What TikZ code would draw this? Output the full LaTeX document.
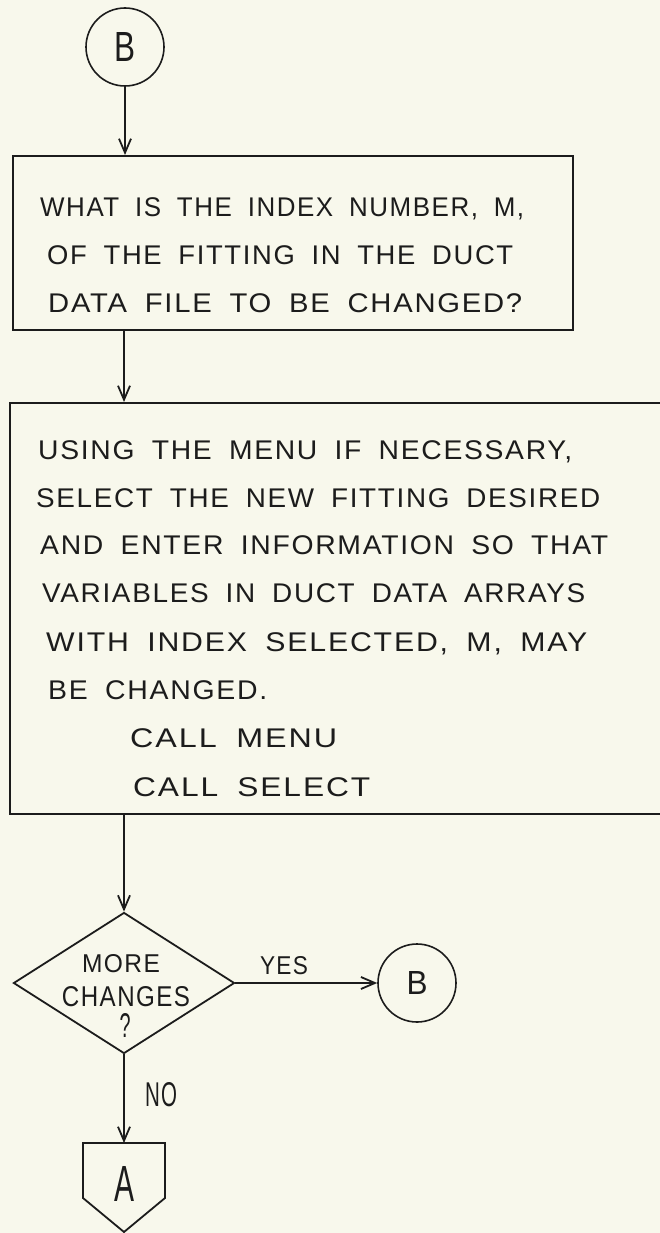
\documentclass[tikz,border=0pt]{standalone}
\usepackage{fontspec}
\usepackage{graphicx}
\newfontfamily\hand[LetterSpace=6,WordSpace=1.8]{Liberation Sans}
\usetikzlibrary{shapes.geometric,arrows.meta}
\definecolor{paper}{RGB}{248,248,236}
\definecolor{ink}{RGB}{28,28,28}
\newcommand\fitw[2]{\resizebox{#1}{\height}{#2}}
\newcommand\fitwh[3]{\resizebox{#1}{#2}{#3}}
\begin{document}
\begin{tikzpicture}[x=1pt,y=-1pt,
  conn/.style={draw=ink, line width=1.8pt, -{Straight Barb[length=14pt,width=12pt,line width=1.8pt]}},
  connector/.style={circle, draw=ink, line width=1.6pt, minimum size=78pt, inner sep=0pt, text=ink, font=\hand\fontsize{30}{32}\selectfont},
  procbox/.style={rectangle, draw=ink, line width=2pt, anchor=north west, inner sep=0pt},
  decision/.style={diamond, draw=ink, line width=1.8pt, inner sep=0pt},
  txt/.style={anchor=base west, inner sep=0pt, text=ink, font=\hand\fontsize{27}{30}\selectfont},
  ctxt/.style={anchor=center, inner sep=0pt, text=ink, font=\hand\fontsize{27}{30}\selectfont}]
\fill[paper] (0,0) rectangle (660,1233);
\useasboundingbox (0,0) rectangle (660,1233);
\clip (0,0) rectangle (660,1233);

% top connector
\node[connector] (B1) at (125,47) {\fitwh{21pt}{29pt}{B}};

% first process box
\node[procbox, minimum width=560pt, minimum height=174pt] (box1) at (12,155) {};
\node[txt] (q1) at (40,217) {\fitw{484pt}{WHAT IS THE INDEX NUMBER, M,}};
\node[txt] (q2) at (47,264) {\fitw{466pt}{OF THE FITTING IN THE DUCT}};
\node[txt] (q3) at (48,312) {\fitw{474pt}{DATA FILE TO BE CHANGED?}};

% second process box (runs past the right edge)
\node[procbox, minimum width=700pt, minimum height=411pt] (box2) at (9,402) {};
\node[txt] (s1) at (38,459) {\fitw{534pt}{USING THE MENU IF NECESSARY,}};
\node[txt] (s2) at (36,507) {\fitw{564pt}{SELECT THE NEW FITTING DESIRED}};
\node[txt] (s3) at (40,554) {\fitw{568pt}{AND ENTER INFORMATION SO THAT}};
\node[txt] (s4) at (42,602) {\fitw{543pt}{VARIABLES IN DUCT DATA ARRAYS}};
\node[txt] (s5) at (46,651) {\fitw{541pt}{WITH INDEX SELECTED, M, MAY}};
\node[txt] (s6) at (48,699) {\fitw{219pt}{BE CHANGED.}};
\node[txt] (s7) at (130,747) {\fitw{207pt}{CALL MENU}};
\node[txt] (s8) at (133,796) {\fitw{237pt}{CALL SELECT}};

% decision
\node[decision, minimum width=221pt, minimum height=141pt] (dec) at (124,983) {};
\node[ctxt] (d1) at (121,964) {\fitwh{78pt}{18pt}{MORE}};
\node[ctxt] (d2) at (126,997) {\fitwh{128pt}{20pt}{CHANGES}};
\node[ctxt] (d3) at (125,1025) {\fitwh{11pt}{24pt}{?}};

% yes connector
\node[connector] (B2) at (417,983) {\fitwh{21pt}{23pt}{B}};
\node[ctxt] (yes) at (284,966) {\fitwh{48pt}{18pt}{YES}};

% off-page connector A
\coordinate (Atop) at (124,1143);
\draw[draw=ink, line width=1.8pt] (83,1143) -- (165,1143) -- (165,1198) -- (124,1232) -- (83,1198) -- cycle;
\node[ctxt] (A) at (124,1184) {\fitwh{20pt}{35pt}{A}};
\node[ctxt] (no) at (161,1095) {\fitwh{32pt}{24pt}{NO}};

% connectors
\draw[conn] (B1.south) -- (B1.south |- box1.north);
\draw[conn] (box1.south -| dec) -- (box2.north -| dec);
\draw[conn] (box2.south -| dec) -- (dec.north);
\draw[conn] (dec.east) -- (B2.west);
\draw[conn] (dec.south) -- (Atop);
\end{tikzpicture}
\end{document}
